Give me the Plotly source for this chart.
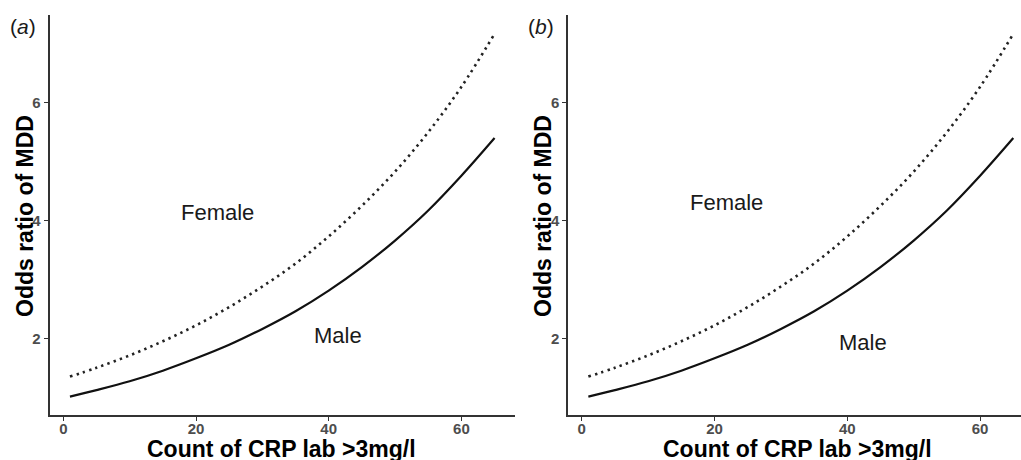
import plotly.graph_objects as go

# Count of CRP lab >3mg/l
crp_count = [1, 5, 10, 15, 20, 25, 30, 35, 40, 45, 50, 55, 60, 65]
# Odds ratio of MDD
or_male = [1.01, 1.12, 1.27, 1.45, 1.66, 1.89, 2.16, 2.46, 2.81, 3.21, 3.66, 4.17, 4.76, 5.40]
or_female = [1.35, 1.50, 1.71, 1.95, 2.22, 2.53, 2.88, 3.27, 3.73, 4.25, 4.83, 5.50, 6.27, 7.17]

panel_labels = ["(<i>a</i>)", "(<i>b</i>)"]
x_title = "Count of CRP lab >3mg/l"
y_title = "Odds ratio of MDD"
x_ticks = [0, 20, 40, 60]
y_ticks = [2, 4, 6]
# label positions (data coords) per panel
female_pos = [(23.3, 4.13), (21.8, 4.31)]
male_pos = [(41.4, 2.05), (42.4, 1.93)]

W, H = 1021, 460
FONT = "Liberation Sans, Arial, sans-serif"

fig = go.Figure()

for i, ax in enumerate(["", "2"]):
    fig.add_trace(go.Scatter(
        x=crp_count, y=or_female, mode="lines", line_shape="spline",
        line=dict(color="#222222", width=2.6, dash="2.4px,4.2px"),
        xaxis="x" + ax, yaxis="y" + ax, showlegend=False, hoverinfo="skip"))
    fig.add_trace(go.Scatter(
        x=crp_count, y=or_male, mode="lines", line_shape="spline",
        line=dict(color="#111111", width=2.2),
        xaxis="x" + ax, yaxis="y" + ax, showlegend=False, hoverinfo="skip"))

axis_common = dict(
    showline=True, linecolor="#333333", linewidth=2, mirror=False,
    showgrid=False, zeroline=False, ticks="outside", ticklen=4,
    tickcolor="#333333", tickwidth=1,
    tickfont=dict(family=FONT, size=15, color="#4d4d4d", weight="bold"),
)

ydom = [45 / H, 445 / H]
yrange = [0.698, 7.49]

fig.update_layout(
    width=W, height=H, autosize=False,
    margin=dict(l=0, r=0, t=0, b=0),
    paper_bgcolor="white", plot_bgcolor="white",
    xaxis=dict(domain=[49.5 / W, 515 / W], range=[-2.08, 68.08],
               tickvals=x_ticks, anchor="y", ticklabelstandoff=-5, **axis_common),
    yaxis=dict(domain=ydom, range=yrange, tickvals=y_ticks, anchor="x", **axis_common),
    xaxis2=dict(domain=[568.3 / W, 1.0], range=[-2.02, 66.16],
                tickvals=x_ticks, anchor="y2", ticklabelstandoff=-5, **axis_common),
    yaxis2=dict(domain=ydom, range=yrange, tickvals=y_ticks, anchor="x2", **axis_common),
)

annotations = []
xt_centers = [281, 797.5]
yt_centers = [25, 543]
lab_centers = [(22.8, 27), (540.5, 27)]
for i, ax in enumerate(["", "2"]):
    annotations.append(dict(
        text=x_title, xref="paper", yref="paper",
        x=xt_centers[i] / W, y=1 - 448.5 / H, xanchor="center", yanchor="middle",
        showarrow=False, font=dict(family=FONT, size=23, color="black", weight="bold")))
    annotations.append(dict(
        text=y_title, xref="paper", yref="paper", textangle=-90,
        x=yt_centers[i] / W, y=1 - 216 / H, xanchor="center", yanchor="middle",
        showarrow=False, font=dict(family=FONT, size=23, color="black", weight="bold")))
    annotations.append(dict(
        text=panel_labels[i], xref="paper", yref="paper",
        x=lab_centers[i][0] / W, y=1 - lab_centers[i][1] / H,
        xanchor="center", yanchor="middle", showarrow=False,
        font=dict(family=FONT, size=21, color="#1a1a1a")))
    annotations.append(dict(
        text="Female", xref="x" + ax, yref="y" + ax,
        x=female_pos[i][0], y=female_pos[i][1], xanchor="center", yanchor="middle",
        showarrow=False, font=dict(family=FONT, size=22, color="#1a1a1a")))
    annotations.append(dict(
        text="Male", xref="x" + ax, yref="y" + ax,
        x=male_pos[i][0], y=male_pos[i][1], xanchor="center", yanchor="middle",
        showarrow=False, font=dict(family=FONT, size=22, color="#1a1a1a")))

fig.update_layout(annotations=annotations)

fig.write_html("out.html")
